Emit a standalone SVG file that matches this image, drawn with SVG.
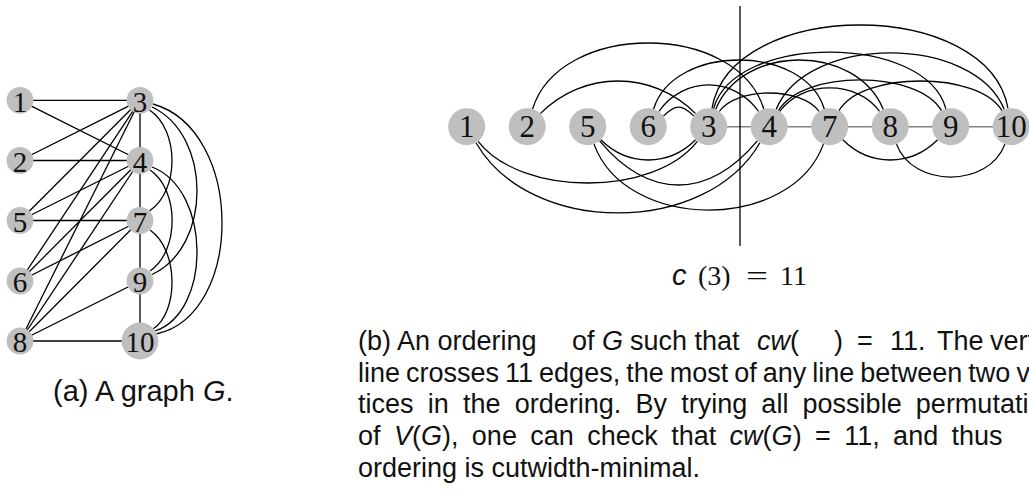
<svg xmlns="http://www.w3.org/2000/svg" width="1029" height="498" viewBox="0 0 1029 498">
<style>
.bg{fill:#fff}
.node circle{fill:#bfbfbf;stroke:none}
.la{font-family:"Liberation Serif",serif;font-size:29px;text-anchor:middle;fill:#111}
.lb{font-family:"Liberation Serif",serif;font-size:31px;text-anchor:middle;fill:#111}
.e{stroke:#000;stroke-width:1.3;fill:none}
.s{stroke:#808080;stroke-width:1.6;fill:none}
.cap{font-family:"Liberation Sans",sans-serif;font-size:27px;fill:#111}
.it{font-style:italic}
.ms{font-family:"Liberation Serif",serif;font-size:28px;fill:#111}
</style>
<rect class="bg" x="0" y="0" width="1029" height="498"/>

<!-- Panel (a) connectors -->
<g id="edges-a" class="e">
<line x1="20" y1="100.3" x2="140" y2="100.3"/>
<line x1="20" y1="100.3" x2="140" y2="160.5"/>
<line x1="20" y1="160.5" x2="140" y2="100.3"/>
<line x1="20" y1="160.5" x2="140" y2="160.5"/>
<line x1="20" y1="220.5" x2="140" y2="100.3"/>
<line x1="20" y1="220.5" x2="140" y2="160.5"/>
<line x1="20" y1="220.5" x2="140" y2="220.5"/>
<line x1="20" y1="281" x2="140" y2="100.3"/>
<line x1="20" y1="281" x2="140" y2="160.5"/>
<line x1="20" y1="281" x2="140" y2="220.5"/>
<line x1="20" y1="341" x2="140" y2="100.3"/>
<line x1="20" y1="341" x2="140" y2="160.5"/>
<line x1="20" y1="341" x2="140" y2="220.5"/>
<line x1="20" y1="341" x2="140" y2="281"/>
<line x1="20" y1="341" x2="140" y2="341"/>
<line x1="140" y1="100.3" x2="140" y2="341"/>
<path d="M149.5,110 C179.5,130 179.5,191 149.5,211"/>
<path d="M152,107 C212,135 212,247 152,274.5"/>
<path d="M153,104 C244.5,130 244.5,315 156,334"/>
<path d="M150,170 C179.5,190 179.5,251 150,271"/>
<path d="M152,167 C211.5,190 211.5,312 155,331"/>
<path d="M150,230 C178.8,250 178.8,312 153,329"/>
</g>

<!-- Panel (a) nodes -->
<g id="a-n1" class="node"><circle cx="20" cy="100.3" r="13.4"/><text class="la" x="20" y="111.5">1</text></g>
<g id="a-n2" class="node"><circle cx="20" cy="160.5" r="13.4"/><text class="la" x="20" y="171.7">2</text></g>
<g id="a-n5" class="node"><circle cx="20" cy="220.5" r="13.4"/><text class="la" x="20" y="231.7">5</text></g>
<g id="a-n6" class="node"><circle cx="20" cy="281" r="13.4"/><text class="la" x="20" y="292.2">6</text></g>
<g id="a-n8" class="node"><circle cx="20" cy="341" r="13.4"/><text class="la" x="20" y="352.2">8</text></g>
<g id="a-n3" class="node"><circle cx="140" cy="100.3" r="13.4"/><text class="la" x="140" y="111.5">3</text></g>
<g id="a-n4" class="node"><circle cx="140" cy="160.5" r="13.4"/><text class="la" x="140" y="171.7">4</text></g>
<g id="a-n7" class="node"><circle cx="140" cy="220.5" r="13.4"/><text class="la" x="140" y="231.7">7</text></g>
<g id="a-n9" class="node"><circle cx="140" cy="281" r="13.4"/><text class="la" x="140" y="292.2">9</text></g>
<g id="a-n10" class="node"><circle cx="140" cy="341" r="18.4"/><text class="la" x="140" y="352.2">10</text></g>

<text class="cap" x="53" y="401" style="font-size:29px">(a) A graph <tspan class="it">G</tspan>.</text>

<!-- Panel (b) connectors -->
<g id="edges-b">
<g class="s">
<line x1="708.7" y1="126.7" x2="769.2" y2="126.7"/>
<line x1="769.2" y1="126.7" x2="829.7" y2="126.7"/>
<line x1="829.7" y1="126.7" x2="890.2" y2="126.7"/>
<line x1="890.2" y1="126.7" x2="950.7" y2="126.7"/>
<line x1="950.7" y1="126.7" x2="1011.2" y2="126.7"/>
</g>
<g class="e">
<path d="M532.6,109 C559.6,21 736.8,21 763.8,109"/>
<path d="M540.3,113.6 C583.8,70.1 652.1,70.1 695.6,113.6"/>
<path d="M663.4,116.1 C675.4,104 681.9,104 693.9,116.1"/>
<path d="M658.8,111.5 C683.6,76.1 733.8,76.1 758.6,111.5"/>
<path d="M653.6,109 C673.6,43.7 804.3,43.7 824.3,109"/>
<path d="M719.3,111.5 C736.6,86.8 801.8,86.8 819.1,111.5"/>
<path d="M715.6,109.5 C742.3,43.5 856.6,43.5 883.3,109.5"/>
<path d="M713.5,108.8 C733.8,33.1 925.6,33.1 945.9,108.8"/>
<path d="M711.9,108.5 C731.5,-2.8 988.4,-2.8 1008,108.5"/>
<path d="M779.8,111.5 C801.8,80.1 857.6,80.1 879.6,111.5"/>
<path d="M778.5,110.7 C802.2,69.7 917.8,69.7 941.5,110.7"/>
<path d="M776.1,109.5 C806.6,34.1 973.8,34.1 1004.3,109.5"/>
<path d="M839,110.7 C861.9,71.1 979,71.1 1001.9,110.7"/>
<path d="M478.1,141.3 C521.5,196.9 653.9,196.9 697.3,141.3"/>
<path d="M476,142.7 C530,236.4 705.9,236.4 759.9,142.7"/>
<path d="M600.8,139.8 C627.7,166.7 668.7,166.7 695.6,139.8"/>
<path d="M599.6,140.9 C648.9,199.7 708,199.7 757.3,140.9"/>
<path d="M594,144.1 C626,232 791.4,232 823.4,144.1"/>
<path d="M842.8,139.8 C869.7,166.7 910.7,166.7 937.6,139.8"/>
<path d="M896.5,144.1 C912.5,188 988.9,188 1004.9,144.1"/>
<line x1="740" y1="6" x2="740" y2="246"/>
</g>
</g>

<!-- Panel (b) nodes -->
<g id="b-n1" class="node"><circle cx="466.7" cy="126.7" r="18.5"/><text class="lb" x="466.7" y="137">1</text></g>
<g id="b-n2" class="node"><circle cx="527.2" cy="126.7" r="18.5"/><text class="lb" x="527.2" y="137">2</text></g>
<g id="b-n5" class="node"><circle cx="587.7" cy="126.7" r="18.5"/><text class="lb" x="587.7" y="137">5</text></g>
<g id="b-n6" class="node"><circle cx="648.2" cy="126.7" r="18.5"/><text class="lb" x="648.2" y="137">6</text></g>
<g id="b-n3" class="node"><circle cx="708.7" cy="126.7" r="18.5"/><text class="lb" x="708.7" y="137">3</text></g>
<g id="b-n4" class="node"><circle cx="769.2" cy="126.7" r="18.5"/><text class="lb" x="769.2" y="137">4</text></g>
<g id="b-n7" class="node"><circle cx="829.7" cy="126.7" r="18.5"/><text class="lb" x="829.7" y="137">7</text></g>
<g id="b-n8" class="node"><circle cx="890.2" cy="126.7" r="18.5"/><text class="lb" x="890.2" y="137">8</text></g>
<g id="b-n9" class="node"><circle cx="950.7" cy="126.7" r="18.5"/><text class="lb" x="950.7" y="137">9</text></g>
<g id="b-n10" class="node"><circle cx="1011.2" cy="126.7" r="18.5"/><text class="lb" x="1011.2" y="137">10</text></g>

<!-- cut label -->
<text class="cap it" x="672" y="285" style="font-size:29px">c</text>
<text class="ms" x="698" y="285">(3)</text>
<text class="ms" x="746" y="285" textLength="22" lengthAdjust="spacingAndGlyphs">=</text>
<text class="ms" x="780" y="285">11</text>

<!-- caption (b) -->
<text class="cap" y="350"><tspan x="358">(b) An ordering</tspan><tspan x="572">of</tspan><tspan x="602" class="it">G</tspan><tspan x="630">such that</tspan><tspan x="757" class="it">cw</tspan><tspan>(</tspan><tspan x="834">)</tspan><tspan x="857">=</tspan><tspan x="890">11.</tspan><tspan x="937">The</tspan><tspan x="990">vert</tspan></text>
<text class="cap" x="358" y="381.7" style="word-spacing:-1.5px">line crosses 11 edges, the most of any line between two v</text>
<text class="cap" x="358" y="413.4" style="word-spacing:6.7px">tices in the ordering. By trying all possible permutati</text>
<text class="cap" x="358" y="445.1" style="word-spacing:5.9px">of <tspan class="it">V</tspan>(<tspan class="it">G</tspan>), one can check that <tspan class="it">cw</tspan>(<tspan class="it">G</tspan>) = 11, and thus</text>
<text class="cap" x="358" y="476.8">ordering is cutwidth-minimal.</text>
</svg>
